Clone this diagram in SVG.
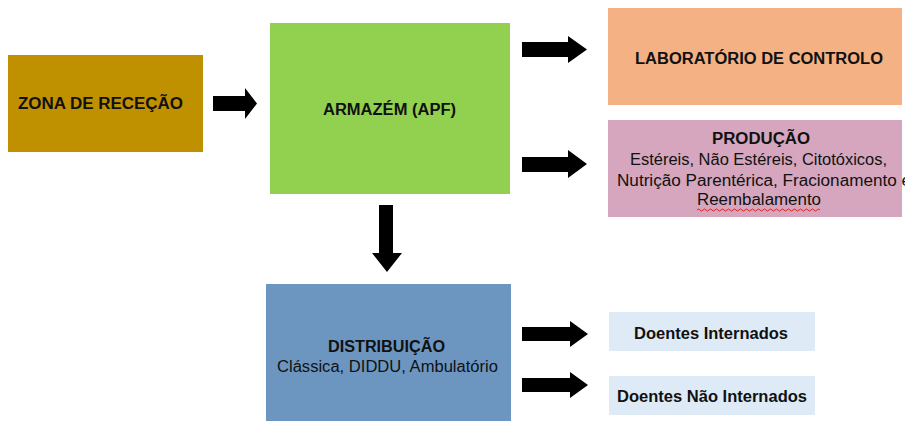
<svg xmlns="http://www.w3.org/2000/svg" width="905" height="421" viewBox="0 0 905 421">
<style>
text{font-family:"Liberation Sans",Arial,sans-serif;fill:#111;text-anchor:middle;font-size:16px}
.b{font-weight:bold}
.arr{fill:#000}
</style>
<rect width="905" height="421" fill="#fff"/>
<g id="zona">
<rect x="8" y="55" width="195" height="97" fill="#BF9000"/>
<text class="b" x="100.5" y="109" textLength="165" lengthAdjust="spacingAndGlyphs">ZONA DE RECEÇÃO</text>
</g>
<g id="armazem">
<rect x="270" y="23" width="240" height="171" fill="#92D050"/>
<text class="b" x="389.5" y="115" textLength="133" lengthAdjust="spacingAndGlyphs">ARMAZÉM (APF)</text>
</g>
<g id="laboratorio">
<rect x="608" y="8" width="294" height="97" fill="#F4B183"/>
<text class="b" x="759" y="64" textLength="248" lengthAdjust="spacingAndGlyphs">LABORATÓRIO DE CONTROLO</text>
</g>
<g id="producao">
<rect x="608" y="120" width="294" height="97" fill="#D5A6BD"/>
<text class="b" x="761" y="144" textLength="98" lengthAdjust="spacingAndGlyphs">PRODUÇÃO</text>
<text x="758.5" y="165" textLength="257" lengthAdjust="spacingAndGlyphs">Estéreis, Não Estéreis, Citotóxicos,</text>
<text x="617" y="186" style="text-anchor:start" textLength="294" lengthAdjust="spacingAndGlyphs">Nutrição Parentérica,  Fracionamento e</text>
<text x="759" y="205" textLength="124" lengthAdjust="spacingAndGlyphs">Reembalamento</text>
<path d="M697,210 q1.5,-2 3,0 t3,0 t3,0 t3,0 t3,0 t3,0 t3,0 t3,0 t3,0 t3,0 t3,0 t3,0 t3,0 t3,0 t3,0 t3,0 t3,0 t3,0 t3,0 t3,0 t3,0 t3,0 t3,0 t3,0 t3,0 t3,0 t3,0 t3,0 t3,0 t3,0 t3,0 t3,0 t3,0 t3,0 t3,0 t3,0 t3,0 t3,0 t3,0 t3,0 t3,0" fill="none" stroke="#e02020" stroke-width="1"/>
</g>
<g id="distribuicao">
<rect x="266" y="284" width="245" height="137" fill="#6C96C0"/>
<text class="b" x="386.5" y="352" textLength="117" lengthAdjust="spacingAndGlyphs">DISTRIBUIÇÃO</text>
<text x="387.5" y="372" textLength="221" lengthAdjust="spacingAndGlyphs">Clássica, DIDDU, Ambulatório</text>
</g>
<g id="internados">
<rect x="609" y="312" width="206" height="39" fill="#DEEAF6"/>
<text class="b" x="711" y="339" textLength="154" lengthAdjust="spacingAndGlyphs">Doentes Internados</text>
</g>
<g id="nao-internados">
<rect x="609" y="376" width="206" height="39" fill="#DEEAF6"/>
<text class="b" x="712" y="402" textLength="190" lengthAdjust="spacingAndGlyphs">Doentes Não Internados</text>
</g>
<g id="connectors">
<path class="arr" d="M213,96 H245 V88 L257,103.5 L245,119 V111 H213 Z"/>
<path class="arr" d="M522,42 H568 V36 L587,49.5 L568,63 V57 H522 Z"/>
<path class="arr" d="M522,157 H568 V150 L587,164 L568,178 V172 H522 Z"/>
<path class="arr" d="M379,205 H393 V253 H402 L387,272 L372,253 H379 Z"/>
<path class="arr" d="M522,327 H570 V321 L588,334 L570,347 V341 H522 Z"/>
<path class="arr" d="M522,378 H570 V372 L588,385 L570,398 V392 H522 Z"/>
</g>
</svg>
